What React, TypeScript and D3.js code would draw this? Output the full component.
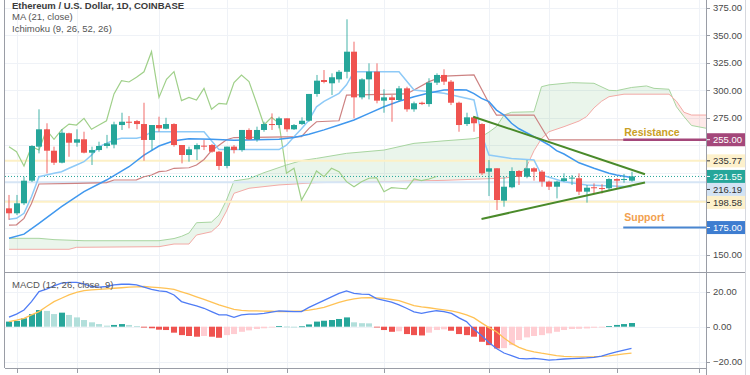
import React from 'react';
import * as d3 from 'd3';

// daily candles
const opens = [192.5, 188.0, 197.1, 217.7, 248.7, 264.5, 245.0, 234.1, 260.9, 252.3, 255.4, 243.2, 245.6, 249.3, 250.5, 268.4, 271.4, 272.0, 269.3, 254.8, 268.4, 265.0, 269.3, 250.2, 241.1, 246.3, 249.6, 250.2, 244.1, 231.1, 248.7, 245.6, 263.9, 255.4, 263.9, 269.3, 268.4, 274.5, 264.5, 269.3, 272.3, 296.7, 309.4, 306.4, 310.0, 316.9, 335.2, 293.6, 310.0, 317.0, 290.6, 293.6, 291.2, 301.8, 282.7, 288.7, 287.5, 307.0, 314.0, 307.9, 288.7, 269.3, 275.4, 269.3, 225.9, 229.0, 199.5, 211.7, 226.5, 221.3, 229.0, 225.9, 216.8, 212.2, 217.4, 219.6, 219.9, 207.7, 211.7, 211.0, 210.8, 219.2, 218.3, 217.7];
const highs = [204.7, 204.7, 221.3, 250.0, 282.7, 270.0, 248.7, 264.5, 261.4, 264.5, 262.3, 248.7, 253.2, 259.4, 271.4, 279.6, 276.6, 273.0, 288.7, 268.4, 276.0, 275.0, 270.0, 250.2, 248.7, 251.7, 254.8, 251.1, 244.7, 248.7, 250.2, 263.9, 265.4, 266.9, 271.4, 279.0, 276.0, 274.5, 269.3, 275.4, 296.7, 314.0, 318.5, 315.5, 318.5, 364.7, 344.3, 311.0, 324.6, 324.6, 301.0, 295.7, 304.0, 303.3, 289.7, 289.7, 311.0, 315.5, 319.2, 309.4, 289.7, 279.6, 276.6, 270.0, 236.5, 229.0, 221.3, 229.9, 227.4, 236.5, 229.9, 227.4, 217.7, 217.7, 224.4, 222.9, 224.4, 213.8, 215.3, 214.5, 219.9, 219.9, 223.8, 225.9];
const lows = [182.0, 186.4, 195.5, 216.5, 242.6, 224.4, 232.0, 233.5, 239.5, 248.7, 242.6, 232.0, 244.1, 247.2, 247.2, 263.9, 265.4, 264.5, 235.9, 245.6, 262.3, 264.5, 248.7, 233.5, 235.0, 236.5, 245.6, 243.2, 227.4, 229.0, 242.6, 244.1, 254.8, 253.2, 262.3, 263.9, 265.4, 262.3, 263.9, 268.4, 271.4, 294.2, 306.4, 295.7, 307.0, 310.9, 274.5, 291.8, 291.8, 288.2, 279.6, 271.4, 289.7, 280.5, 280.5, 286.6, 285.1, 304.9, 304.9, 286.6, 262.3, 267.5, 262.3, 222.9, 203.7, 191.0, 194.0, 210.8, 213.8, 219.9, 217.7, 212.2, 209.2, 201.6, 216.8, 213.8, 204.6, 197.7, 206.2, 206.0, 209.2, 210.8, 215.9, 216.8];
const closes = [188.0, 197.1, 217.7, 249.3, 264.5, 245.0, 234.1, 261.4, 252.3, 255.4, 243.2, 245.6, 249.3, 251.7, 269.0, 271.4, 270.5, 269.3, 254.8, 268.4, 265.4, 269.3, 250.2, 241.1, 246.3, 250.2, 248.7, 244.1, 231.1, 248.7, 245.6, 263.9, 255.4, 263.9, 269.3, 268.4, 274.5, 264.5, 268.4, 272.3, 296.7, 308.8, 307.6, 311.9, 316.9, 335.2, 293.6, 310.0, 317.0, 290.6, 293.6, 291.2, 301.8, 282.7, 288.2, 287.5, 307.0, 314.0, 307.9, 288.7, 268.4, 275.4, 270.0, 224.4, 229.0, 200.1, 212.2, 226.5, 221.3, 229.0, 225.9, 216.8, 212.2, 216.8, 219.9, 220.5, 207.7, 211.3, 210.8, 210.2, 219.2, 217.7, 219.2, 221.55];

// overlays as [day index, price]
const maPoints: [number, number][] = [[0, 165.2], [2, 169], [4, 178.9], [7, 194], [10, 207.7], [13, 218.3], [16, 230.4], [18, 241], [20, 249.3], [22, 254], [24, 256], [27, 255.5], [30, 254.5], [33, 255], [36, 255.5], [38, 257], [40, 260], [42, 264], [44, 268.5], [46, 273], [48, 279], [50, 285], [52, 290], [54, 294.2], [56, 297.5], [58, 300.3], [60, 300.5], [61, 300.3], [62, 297], [63, 292.7], [64, 289.7], [65, 282], [66, 277.5], [67, 270], [68, 265], [70, 257.8], [72, 250.2], [73, 245], [74, 242], [76, 234], [78, 229], [80, 224.5], [81, 222.9], [83, 220.5]];
const tenkanPoints: [number, number][] = [[0, 182.5], [1, 183.4], [2, 188], [3, 203], [4, 221.3], [5, 222.9], [6, 224.4], [7, 225.9], [8, 229], [9, 232], [10, 235], [11, 241], [12, 248.7], [13, 251.7], [14, 254.8], [15, 256.3], [17, 256.3], [18, 257.8], [19, 262.3], [26, 262.3], [27, 254], [28, 246], [36, 246], [37, 250], [38, 257.8], [39, 265], [40, 273], [41, 285], [42, 290], [44, 297.3], [45, 305], [46, 317], [52, 317], [54, 300.3], [58, 297.3], [62, 291.2], [63, 260], [64, 241], [67, 238], [70, 236.5], [71, 222.9], [74, 216.8], [77, 213.8], [83, 212.2]];
const kijunPoints: [number, number][] = [[0, 177.3], [1, 177.5], [2, 183.4], [3, 197], [4, 214.7], [9, 215.3], [13, 216], [14, 218.3], [17, 218.5], [18, 221.3], [19, 222.9], [20, 225.9], [21, 226.5], [22, 229], [24, 229.5], [25, 232], [26, 237], [27, 245], [28, 250], [29, 255], [30, 257], [39, 257.8], [40, 265.4], [41, 271.4], [44, 272.3], [45, 295.7], [53, 296.7], [54, 300.3], [56, 307.9], [58, 313], [62, 314], [64, 288.2], [65, 277.5], [70, 277.5], [72, 254.8], [83, 254.8]];
const spanAPoints: [number, number][] = [[0, 165.2], [4, 165.2], [6, 164], [10, 163], [20, 163], [22, 165], [23, 167], [24, 170], [25, 179.4], [27, 180], [28, 186.4], [29, 200], [30, 217.5], [32, 219.5], [34, 225], [37, 232], [39, 236], [41, 238], [45, 242.6], [50, 245.6], [54, 251.7], [58, 254], [62, 256], [63, 257.8], [64, 262], [65, 267], [66, 277.5], [67, 280], [70, 280.5], [71, 303.3], [72, 305], [75, 307], [78, 306.4], [80, 300], [81, 299.7], [83, 302.6], [85, 304], [86, 301.8], [88, 301], [89, 285], [90, 276], [91, 268], [93, 265.4]];
const spanBPoints: [number, number][] = [[0, 155.2], [8, 155.2], [9, 157], [20, 157.6], [22, 160], [24, 160], [25, 168.2], [27, 171.2], [28, 177.3], [29, 190], [30, 206.2], [32, 210.8], [36, 213.8], [41, 215.9], [50, 216.8], [58, 218], [66, 220], [68, 222], [69, 230.4], [70, 245], [71, 256], [72, 262.3], [74, 266.9], [76, 272], [77, 276], [78, 284], [79, 290], [80, 294.2], [82, 296.5], [88, 296.5], [89, 290], [90, 280], [91, 277.5], [93, 277.5]];
const laggingShift = 26;

// MACD (12, 26, close, 9)
const macdValues = [5.4, 7.2, 9.5, 14.3, 20, 21.4, 23.3, 24.8, 25.2, 25.2, 24.4, 22.9, 22.5, 22.9, 23.8, 24.2, 24.2, 23.8, 22.5, 21.3, 20.4, 20, 18.1, 14.3, 13, 11.8, 10.5, 8.6, 6.7, 6.7, 5.3, 6.7, 7.2, 7.2, 7.6, 8.3, 9.0, 8.8, 8.6, 8.6, 11, 13, 15, 17, 19, 20.4, 19, 18.6, 18.4, 16, 15, 14, 12.4, 10.5, 8.5, 7.6, 8.5, 9.1, 8.6, 7.6, 5, 2.9, -1.5, -5, -9, -12.4, -15, -16.5, -18, -18.3, -18.1, -18.5, -19, -18.8, -18.4, -18.2, -18, -17.8, -17.5, -16.8, -15.5, -14.3, -13.3, -12.4];
const signalValues = [2.9, 3.8, 4.8, 6.7, 8.6, 11.5, 14.3, 16.2, 18.1, 19.5, 20.6, 21, 21.3, 21.6, 21.9, 22.2, 22.5, 22.7, 22.9, 22.6, 22.3, 21.8, 21.3, 19.9, 18.5, 17, 15.6, 14, 12.4, 11.2, 9.9, 9.3, 9.0, 9.0, 8.9, 8.8, 8.6, 8.6, 8.8, 9.0, 9.5, 10.2, 11, 12.4, 13.8, 15, 15.8, 16.4, 16.6, 16.4, 16.1, 15.5, 14.9, 13.5, 12, 11.3, 10.8, 10.2, 9.6, 9.0, 8, 6.7, 5, 2.2, -0.5, -2.9, -6.5, -9.5, -11.8, -13.3, -14.3, -15.1, -15.8, -16.5, -16.9, -17.1, -17.2, -17.2, -17.1, -16.9, -16.6, -16, -15.5, -15.0];
const histValues = [2.9, 3.3, 4.8, 7.2, 9.5, 9.0, 7.2, 8.0, 6.7, 5.3, 3.8, 2.5, 1.5, 0.6, 1.0, 1.5, 1.0, 0.4, -0.5, -0.9, -1.7, -1.9, -3.4, -4.8, -5.3, -5.7, -5.3, -5.7, -6.3, -4.8, -4.2, -2.9, -2.1, -1.3, -0.9, -0.3, 0.4, 0.1, 0.0, 0.2, 1.3, 2.9, 3.4, 3.8, 4.4, 5.3, 2.5, 2.0, 1.9, -0.3, -1.9, -2.9, -2.6, -4.2, -4.8, -5.0, -3.4, -1.9, -1.5, -2.3, -4.2, -4.8, -5.7, -8.6, -10.5, -12.4, -12.2, -10.5, -7.6, -6.1, -5.3, -4.8, -3.8, -2.9, -1.9, -1.3, -1.2, -1.0, -0.6, -0.4, 0.3, 1.0, 1.5, 2.1];

const priceTicks = [150, 175, 200, 225, 250, 275, 300, 325, 350, 375];
const macdTicks = [-20, 0, 20];
const timeGridIdx = [1, 9, 20, 29, 37, 50, 64, 72, 81, 92];

// drawings
const levelValues = [255, 235.77, 221.55, 216.19, 198.58, 175];
const levelStyles = [
  { bg: '#a4477a', fg: '#ffffff' },
  { bg: '#fdf1cc', fg: '#333333' },
  { bg: '#26a69a', fg: '#ffffff' },
  { bg: '#d3e3f4', fg: '#333333' },
  { bg: '#fdf1cc', fg: '#333333' },
  { bg: '#3e7dd0', fg: '#ffffff' },
];
const triangleUpper: [number, number][] = [[61.9, 276], [84.8, 223.6]];
const triangleLower: [number, number][] = [[63.0, 182.8], [84.8, 216.1]];
const resistanceValue = 255;
const supportValue = 175;
const zoneStartIdx = 81.9;

const FONT = '"Liberation Sans", Arial, sans-serif';
const L = 5, R = 707, TOP_B = 272, M_B = 368;

const x = d3.scaleLinear().domain([0, 92]).range([9, 699]);
const yP = d3.scaleLinear().domain([150, 375]).range([255, 8]);
const yM = d3.scaleLinear().domain([-20, 20]).range([361.8, 291.6]);

const pLine = d3.line<[number, number]>().x(d => x(d[0])).y(d => yP(d[1]));
const mLine = d3.line<number>().x((d, i) => x(i)).y(d => yM(d));

const UP = '#26a69a', DOWN = '#ef5350';

function histColor(v: number, prev: number) {
  if (v >= 0) return v >= prev ? '#26a69a' : '#b2dfdb';
  return v <= prev ? '#ef5350' : '#ffcdd2';
}

export default function App() {
  const crisp = (v: number) => Math.round(v) + 0.5;

  const lagging: [number, number][] = closes
    .map((c, i) => [i - laggingShift, c] as [number, number])
    .filter(d => d[0] >= 0);

  // cloud fills: A above B -> green, B above A -> red
  const areaDown = d3.area<[number, number]>().x(d => x(d[0])).y0(TOP_B).y1(d => yP(d[1]));
  const areaUp = d3.area<[number, number]>().x(d => x(d[0])).y0(0).y1(d => yP(d[1]));

  // level labels on the price scale, pushed apart like the platform does
  const BOX_H = 13;
  const order = levelValues.map((v, i) => i).sort((a, b) => yP(levelValues[a]) - yP(levelValues[b]));
  const labelY: number[] = [];
  let lastBottom = -Infinity;
  order.forEach(i => {
    let c = yP(levelValues[i]);
    if (c - BOX_H / 2 < lastBottom) c = lastBottom + BOX_H / 2;
    labelY[i] = c;
    lastBottom = c + BOX_H / 2;
  });
  // tick labels covered by a level label are not drawn
  const visibleTicks = priceTicks.filter(t => labelY.every(ly => Math.abs(ly - yP(t)) >= BOX_H));

  const zoneX0 = x(zoneStartIdx);

  return (
    <svg width={750} height={375} style={{ position: 'absolute', left: 0, top: 0, background: '#fff' }} fontFamily={FONT}>
      <defs>
        <clipPath id="top"><rect x={L} y={0} width={R - L} height={TOP_B} /></clipPath>
        <clipPath id="macd"><rect x={L} y={TOP_B} width={R - L} height={M_B - TOP_B} /></clipPath>
        <clipPath id="aboveB"><path d={areaUp(spanBPoints) || ''} /></clipPath>
        <clipPath id="aboveA"><path d={areaUp(spanAPoints) || ''} /></clipPath>
      </defs>
      <rect x={0} y={0} width={750} height={375} fill="#fff" />

      {/* grid */}
      <g stroke="#eff2f7" strokeWidth={1}>
        {timeGridIdx.map(t => (
          <line key={'v' + t} x1={crisp(x(t))} x2={crisp(x(t))} y1={0} y2={M_B} />
        ))}
        {priceTicks.map(t => (
          <line key={'h' + t} x1={L} x2={R} y1={crisp(yP(t))} y2={crisp(yP(t))} />
        ))}
        {macdTicks.map(t => (
          <line key={'m' + t} x1={L} x2={R} y1={crisp(yM(t))} y2={crisp(yM(t))} />
        ))}
      </g>

      <g clipPath="url(#top)">
        {/* ichimoku cloud */}
        <g clipPath="url(#aboveB)">
          <path d={areaDown(spanAPoints) || ''} fill="rgba(67,160,71,0.11)" />
        </g>
        <g clipPath="url(#aboveA)">
          <path d={areaDown(spanBPoints) || ''} fill="rgba(244,67,54,0.11)" />
        </g>
        <path d={pLine(spanAPoints) || ''} fill="none" stroke="#a8d5a0" strokeWidth={1} />
        <path d={pLine(spanBPoints) || ''} fill="none" stroke="#f3aaa6" strokeWidth={1} />

        {/* horizontal levels */}
        {[235.77, 198.58].map(v => (
          <line key={'lv' + v} x1={L} x2={R} y1={yP(v)} y2={yP(v)} stroke="#fdf0c6" strokeWidth={2} />
        ))}
        <line x1={L} x2={R} y1={yP(216.19)} y2={yP(216.19)} stroke="#d6e5f5" strokeWidth={2} />
        <line x1={L} x2={R} y1={yP(closes[closes.length - 1])} y2={yP(closes[closes.length - 1])} stroke="#26a69a" strokeWidth={1} strokeDasharray="1 2" />

        {/* lagging span, base, conversion, MA */}
        <path d={pLine(lagging) || ''} fill="none" stroke="#a0d08a" strokeWidth={1.2} />
        <path d={pLine(kijunPoints) || ''} fill="none" stroke="#cd8282" strokeWidth={1.2} />
        <path d={pLine(tenkanPoints) || ''} fill="none" stroke="#8ecaf7" strokeWidth={1.5} />
        <path d={pLine(maPoints) || ''} fill="none" stroke="#4098ee" strokeWidth={1.5} />

        {/* candles */}
        {closes.map((c, i) => {
          const o = opens[i];
          const col = c >= o ? UP : DOWN;
          const bx = Math.round(x(i) - 3);
          const top = yP(Math.max(o, c));
          const h = Math.max(1, Math.abs(yP(o) - yP(c)));
          return (
            <g key={'c' + i}>
              <rect x={bx + 2.5} width={1} y={yP(highs[i])} height={yP(lows[i]) - yP(highs[i])} fill={col} opacity={0.85} />
              <rect x={bx} width={6} y={top} height={h} fill={col} />
            </g>
          );
        })}

        {/* triangle */}
        <path d={pLine(triangleUpper) || ''} stroke="#4a8a2a" strokeWidth={2} fill="none" />
        <path d={pLine(triangleLower) || ''} stroke="#4a8a2a" strokeWidth={2} fill="none" />

        {/* resistance / support */}
        <line x1={zoneX0} x2={R} y1={yP(resistanceValue)} y2={yP(resistanceValue)} stroke="#a4477a" strokeWidth={2.5} />
        <line x1={zoneX0} x2={R} y1={yP(supportValue)} y2={yP(supportValue)} stroke="#4a86d0" strokeWidth={2} />
        <text x={zoneX0 + 1} y={yP(resistanceValue) - 4} fontSize={10.5} fontWeight="bold" fill="#c9a025">Resistance</text>
        <text x={zoneX0 + 1} y={yP(supportValue) - 7} fontSize={10.5} fontWeight="bold" fill="#f2a04e">Support</text>
      </g>

      {/* MACD pane */}
      <g clipPath="url(#macd)">
        {histValues.map((v, i) => {
          const y0 = yM(0);
          const yv = yM(v);
          return (
            <rect key={'h' + i} x={Math.round(x(i) - 3)} width={6} y={Math.min(y0, yv)} height={Math.max(0.8, Math.abs(yv - y0))}
              fill={histColor(v, i > 0 ? histValues[i - 1] : -Infinity)} />
          );
        })}
        <path d={mLine(signalValues) || ''} fill="none" stroke="#ffc255" strokeWidth={1.3} />
        <path d={mLine(macdValues) || ''} fill="none" stroke="#4f7cf5" strokeWidth={1.3} />
      </g>

      {/* frames */}
      <line x1={crisp(L - 1)} x2={crisp(L - 1)} y1={0} y2={M_B} stroke="#9a9da6" />
      <line x1={crisp(R - 1)} x2={crisp(R - 1)} y1={0} y2={375} stroke="#9a9da6" />
      <line x1={745.5} x2={745.5} y1={0} y2={375} stroke="#d6d8de" />
      <line x1={L} x2={745} y1={crisp(TOP_B)} y2={crisp(TOP_B)} stroke="#9a9da6" />
      <line x1={L} x2={R} y1={crisp(M_B)} y2={crisp(M_B)} stroke="#9a9da6" />
      {timeGridIdx.map(t => (
        <line key={'tt' + t} x1={crisp(x(t))} x2={crisp(x(t))} y1={M_B} y2={M_B + 5} stroke="#9a9da6" />
      ))}

      {/* price axis */}
      <g fontSize={9.5} fill="#4a4a4a">
        {visibleTicks.map(t => (
          <g key={'pt' + t}>
            <line x1={R} x2={R + 3} y1={crisp(yP(t))} y2={crisp(yP(t))} stroke="#9a9da6" />
            <text x={R + 6} y={yP(t) + 3.4}>{t.toFixed(2)}</text>
          </g>
        ))}
        {macdTicks.map(t => (
          <g key={'mt' + t}>
            <line x1={R} x2={R + 3} y1={crisp(yM(t))} y2={crisp(yM(t))} stroke="#9a9da6" />
            <text x={R + 6} y={yM(t) + 3.4}>{t < 0 ? '\u2212' + Math.abs(t).toFixed(2) : t.toFixed(2)}</text>
          </g>
        ))}
      </g>

      {/* level labels */}
      <g fontSize={9.5}>
        {levelValues.map((v, i) => (
          <g key={'lb' + v}>
            <rect x={R} y={labelY[i] - BOX_H / 2} width={745 - R} height={BOX_H} fill={levelStyles[i].bg} />
            <line x1={R} x2={R + 3} y1={labelY[i]} y2={labelY[i]} stroke={levelStyles[i].fg} />
            <text x={R + 6} y={labelY[i] + 3.4} fill={levelStyles[i].fg}>{v.toFixed(2)}</text>
          </g>
        ))}
      </g>

      {/* legends */}
      <g fontSize={9.5} fill="#555">
        <text x={12} y={8.5} fontWeight="bold" fill="#3a3a3a">Ethereum / U.S. Dollar, 1D, COINBASE</text>
        <text x={12} y={20}>MA (21, close)</text>
        <text x={12} y={31.5}>Ichimoku (9, 26, 52, 26)</text>
        <text x={12} y={288}>MACD (12, 26, close, 9)</text>
      </g>
    </svg>
  );
}
